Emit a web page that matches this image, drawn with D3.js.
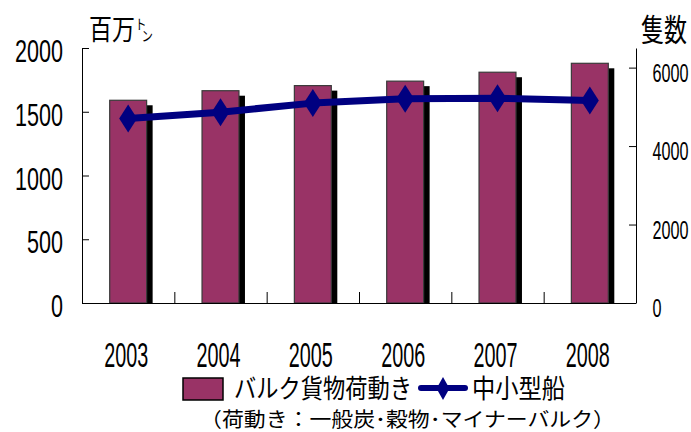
<!DOCTYPE html>
<html><head><meta charset="utf-8">
<script src="https://cdn.jsdelivr.net/npm/d3@7"></script>
<style>body{margin:0;background:#fff}</style></head>
<body>
<svg id="c" width="691" height="432"></svg>
<script>
const years = ["2003","2004","2005","2006","2007","2008"];
const cargo = [1590, 1665, 1705, 1740, 1810, 1880];
const ships = [4700, 4865, 5095, 5205, 5220, 5160];
const leftTicks = [0, 500, 1000, 1500, 2000];
const rightTicks = [0, 2000, 4000, 6000];
const leftTitle = "百万";
const leftUnit1 = "ト", leftUnit2 = "ン";
const rightTitle = "隻数";
const legendBar = "バルク貨物荷動き";
const legendLine = "中小型船";
const note = "（荷動き：一般炭･穀物･マイナーバルク）";

const svg = d3.select("#c");
const X0 = 82, X1 = 636, YT = 48, YB = 303;
const NUM = "'Liberation Sans', Arial, sans-serif";
const CJK = "'Noto Sans CJK JP', sans-serif";
const BAR = "#993366", NAVY = "#000080";
const fmt = d3.format("d");

const x = d3.scaleBand().domain(years).range([X0, X1]).paddingInner(0.6).paddingOuter(0.3);
const xs = d3.scaleBand().domain(years).range([X0, X1]);
const yL = d3.scaleLinear().domain([0, 2000]).range([YB, YT]);
const yR = d3.scaleLinear().domain([0, 6500]).range([YB, YT]);
const bw = x.bandwidth();
const cx = d => x(d) + bw / 2;

// bars: shadow then bar
const gb = svg.append("g");
gb.selectAll("rect.sh").data(years).join("rect")
  .attr("x", d => x(d) + 6).attr("y", (d,i) => yL(cargo[i]) + 5)
  .attr("width", bw).attr("height", (d,i) => YB - yL(cargo[i]) - 5)
  .attr("fill", "#000");
gb.selectAll("rect.b").data(years).join("rect")
  .attr("x", d => x(d)).attr("y", (d,i) => yL(cargo[i]))
  .attr("width", bw).attr("height", (d,i) => YB - yL(cargo[i]))
  .attr("fill", BAR).attr("stroke", "#3a3a3a").attr("stroke-width", 1.2);

// left axis
const ax = svg.append("g").attr("transform", `translate(${X0},0)`)
  .call(d3.axisLeft(yL).tickValues(leftTicks).tickFormat(fmt).tickSize(-7).tickSizeOuter(0));
ax.select(".domain").attr("stroke", "#000");
ax.selectAll(".tick line").attr("stroke", "#000");
ax.selectAll(".tick text").each(function(d){
  const s = fmt(d), w = s.length * 12;
  d3.select(this).attr("text-anchor","start").attr("x", 63 - X0 - w).attr("y", 13.5).attr("dy", null)
    .attr("font-family", NUM).attr("font-size", 32).attr("fill","#000")
    .attr("textLength", w).attr("lengthAdjust","spacingAndGlyphs");
});

// right axis
const ar = svg.append("g").attr("transform", `translate(${X1},0)`)
  .call(d3.axisRight(yR).tickValues(rightTicks).tickFormat(fmt).tickSize(-7).tickSizeOuter(0));
ar.select(".domain").attr("stroke", "#000");
ar.selectAll(".tick line").attr("stroke", "#000");
ar.selectAll(".tick text").each(function(d){
  d3.select(this).attr("text-anchor","start").attr("x", 0).attr("y", 0).attr("dy", null)
    .attr("transform", `translate(${652.5 - X1},13.5) scale(0.623,1)`)
    .attr("font-family", NUM).attr("font-size", 26).attr("fill","#000");
});

// bottom axis
const abx = svg.append("g").attr("transform", `translate(0,${YB})`)
  .call(d3.axisBottom(x).tickSize(0).tickSizeOuter(0));
abx.select(".domain").attr("stroke", "#000").attr("d", `M${X0},0.5H${X1}`);
abx.selectAll(".tick text").each(function(d){
  const w = 44;
  d3.select(this).attr("text-anchor","start").attr("x", -w/2 - 2).attr("y", 64).attr("dy", null)
    .attr("font-family", NUM).attr("font-size", 35).attr("fill","#000")
    .attr("textLength", w).attr("lengthAdjust","spacingAndGlyphs");
});
svg.append("g").selectAll("line").data(years.slice(1)).join("line")
  .attr("x1", d => xs(d) + 0.5).attr("x2", d => xs(d) + 0.5)
  .attr("y1", YB - 11).attr("y2", YB).attr("stroke", "#000");

// line series
const pts = years.map((d,i) => [cx(d), yR(ships[i])]);
svg.append("path").attr("d", d3.line()(pts)).attr("fill","none")
  .attr("stroke", NAVY).attr("stroke-width", 7).attr("stroke-linejoin","round");
const diamond = (w,h) => `M0,${-h/2}L${w/2},0L0,${h/2}L${-w/2},0Z`;
svg.append("g").selectAll("path").data(pts).join("path")
  .attr("transform", p => `translate(${p[0]},${p[1]})`)
  .attr("d", diamond(18, 28)).attr("fill", NAVY);

// titles
const lt = svg.append("text").attr("transform", "translate(89,40) scale(0.82,1)")
  .attr("font-family", CJK).attr("fill", "#000");
lt.append("tspan").attr("font-size", 28).text(leftTitle);
lt.append("tspan").attr("font-size", 14).attr("dy", -11).text(leftUnit1);
lt.append("tspan").attr("font-size", 14).attr("dx", -6).attr("dy", 12).text(leftUnit2);
svg.append("text").attr("transform", "translate(641,41) scale(0.742,1)")
  .attr("font-family", CJK).attr("font-size", 31).text(rightTitle);

// legend
svg.append("rect").attr("x", 183).attr("y", 378).attr("width", 40).attr("height", 22)
  .attr("fill", BAR).attr("stroke", "#000").attr("stroke-width", 1.5);
svg.append("text").attr("x", 234).attr("y", 398).attr("font-family", CJK).attr("font-size", 26)
  .attr("textLength", 178).attr("lengthAdjust","spacingAndGlyphs").text(legendBar);
svg.append("line").attr("x1", 421).attr("x2", 465).attr("y1", 388).attr("y2", 388)
  .attr("stroke", NAVY).attr("stroke-width", 6).attr("stroke-linecap","round");
svg.append("path").attr("transform","translate(443,388.5)").attr("d", diamond(13, 23)).attr("fill", NAVY);
svg.append("text").attr("x", 472).attr("y", 398).attr("font-family", CJK).attr("font-size", 26)
  .attr("textLength", 93).attr("lengthAdjust","spacingAndGlyphs").text(legendLine);
svg.append("text").attr("x", 200).attr("y", 427).attr("font-family", CJK).attr("font-size", 20)
  .attr("textLength", 415).attr("lengthAdjust","spacingAndGlyphs").text(note);
</script>
</body></html>
